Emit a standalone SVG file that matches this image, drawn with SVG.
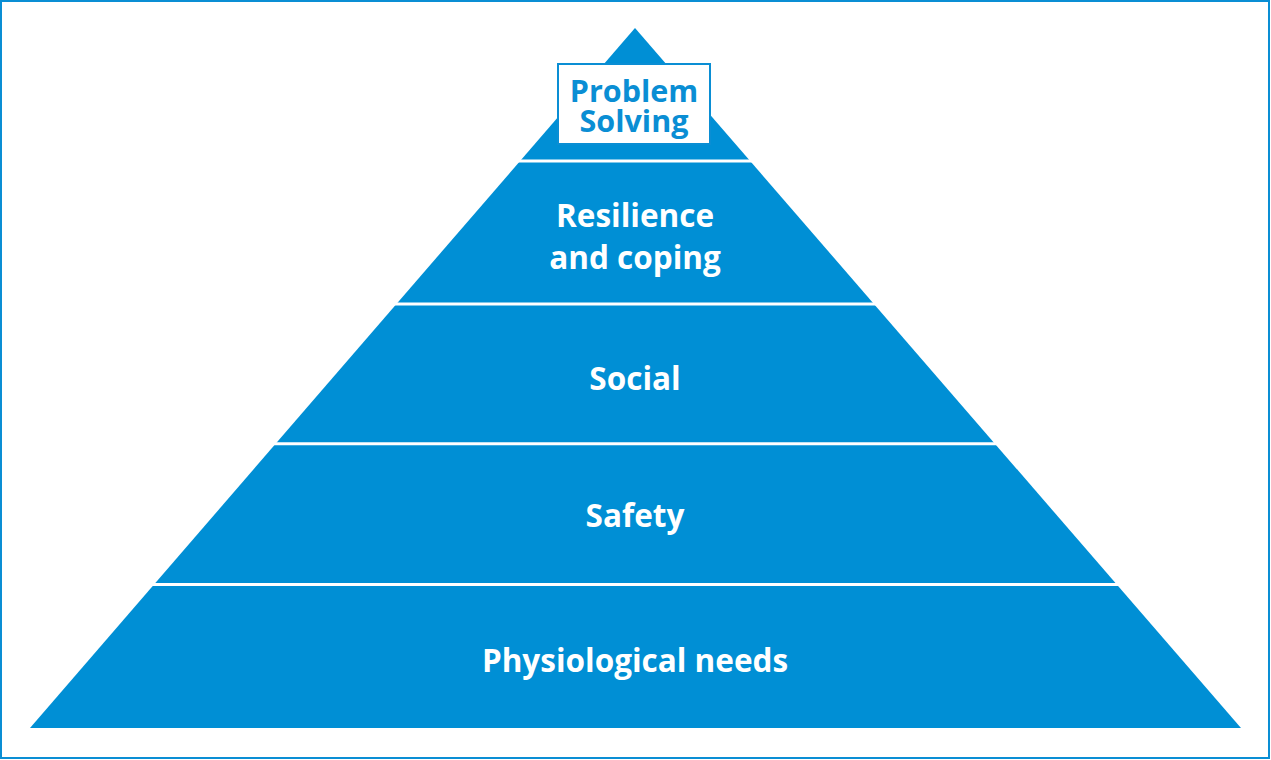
<svg xmlns="http://www.w3.org/2000/svg" width="1271" height="760" viewBox="0 0 1271 760">
<style>
.frame{fill:#ffffff;stroke:#0a8ed4;stroke-width:2}
.band{fill:#008fd5}
.gap{stroke:#ffffff;stroke-width:3}
.lbl{font-family:"Open Sans","Noto Sans",sans-serif;font-weight:700;font-size:31.5px;fill:#ffffff;text-anchor:middle}
.top{fill:#0a8ed4;font-size:30.5px}
.box{fill:#ffffff;stroke:#0a8ed4;stroke-width:2}
</style>
<rect class="frame" x="1" y="1" width="1268" height="757"/>
<g id="pyramid">
<polygon class="band" points="635,28 1241,728 30,728"/>
</g>
<g id="connectors">
<line class="gap" x1="480" y1="161" x2="790" y2="161"/>
<line class="gap" x1="360" y1="304" x2="910" y2="304"/>
<line class="gap" x1="240" y1="443.8" x2="1030" y2="443.8"/>
<line class="gap" x1="120" y1="584.5" x2="1150" y2="584.5"/>
</g>
<g id="node-problem-solving">
<rect class="box" x="558" y="64" width="152" height="80"/>
<text class="lbl top" x="634" y="101.5">Problem</text>
<text class="lbl top" x="634" y="132">Solving</text>
</g>
<g id="node-resilience">
<text class="lbl" x="635" y="227">Resilience</text>
<text class="lbl" x="635" y="269">and coping</text>
</g>
<g id="node-social">
<text class="lbl" x="635" y="390">Social</text>
</g>
<g id="node-safety">
<text class="lbl" x="635" y="527">Safety</text>
</g>
<g id="node-physiological">
<text class="lbl" x="635" y="671.5">Physiological needs</text>
</g>
</svg>
